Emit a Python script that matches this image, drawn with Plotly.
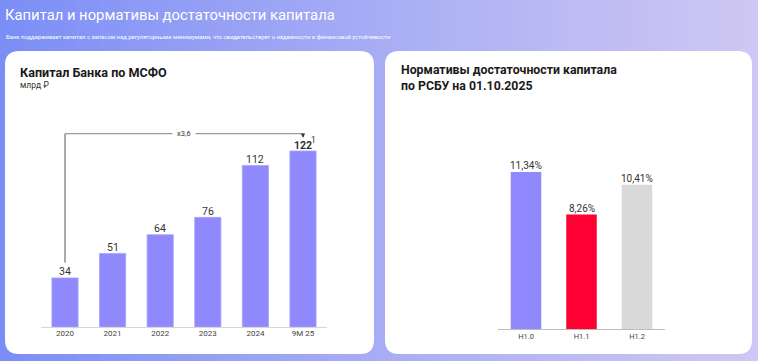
import plotly.graph_objects as go

W, H = 758, 361

# ---- data ----
cap_years = ["2020", "2021", "2022", "2023", "2024", "9M 25"]
cap_values = [34, 51, 64, 76, 112, 122]
cap_labels = ["34", "51", "64", "76", "112", "<b>122</b>"]
growth_label = "x3,6"
footnote_mark = "1"

ratio_names = ["Н1.0", "Н1.1", "Н1.2"]
ratio_values = [11.34, 8.26, 10.41]
ratio_labels = ["11,34%", "8,26%", "10,41%"]

main_title = "Капитал и нормативы достаточности капитала"
subtitle = ("Банк поддерживает капитал с запасом над регуляторными минимумами, "
            "что свидетельствует о надежности и финансовой устойчивости")
left_title = "Капитал Банка по МСФО"
left_unit = "млрд ₽"
right_title = "Нормативы достаточности капитала<br>по РСБУ на 01.10.2025"

# ---- styles ----
BAR = "#8f89fd"
ratio_colors = [BAR, "#ff0033", "#d9d9d9"]
FONT = "Roboto"


def px(x):
    return x / W


def py(y):
    return 1 - y / H


def hexmix(c1, c2, t):
    a = [int(c1[i:i + 2], 16) for i in (1, 3, 5)]
    b = [int(c2[i:i + 2], 16) for i in (1, 3, 5)]
    return "#%02x%02x%02x" % tuple(round(a[k] + (b[k] - a[k]) * t) for k in range(3))


def rrect(x0, y0, x1, y1, r):
    p = [
        f"M {px(x0 + r)} {py(y0)}",
        f"L {px(x1 - r)} {py(y0)}",
        f"Q {px(x1)} {py(y0)} {px(x1)} {py(y0 + r)}",
        f"L {px(x1)} {py(y1 - r)}",
        f"Q {px(x1)} {py(y1)} {px(x1 - r)} {py(y1)}",
        f"L {px(x0 + r)} {py(y1)}",
        f"Q {px(x0)} {py(y1)} {px(x0)} {py(y1 - r)}",
        f"L {px(x0)} {py(y0 + r)}",
        f"Q {px(x0)} {py(y0)} {px(x0 + r)} {py(y0)}",
        "Z",
    ]
    return " ".join(p)


shapes = []
# gradient background
N = 60
for i in range(N):
    t = i / (N - 1)
    shapes.append(dict(type="rect", xref="paper", yref="paper",
                       x0=i / N, x1=(i + 1) / N + 0.002, y0=0, y1=1,
                       fillcolor=hexmix("#7b8ef6", "#cec7f3", t ** 0.9),
                       line=dict(width=0), layer="below"))
# cards
shapes.append(dict(type="path", xref="paper", yref="paper", path=rrect(5, 51, 374, 354, 14),
                   fillcolor="white", line=dict(width=0), layer="below"))
shapes.append(dict(type="path", xref="paper", yref="paper", path=rrect(385, 51, 752, 354, 14),
                   fillcolor="white", line=dict(width=0), layer="below"))

# bracket (x in category index units)
first_i, last_i = 0, len(cap_years) - 1
br_low = cap_values[0] + 10.5
br_top = max(cap_values) + 12
shapes.append(dict(type="line", xref="x", yref="y", x0=first_i, x1=first_i,
                   y0=br_low, y1=br_top, line=dict(color="#666666", width=1.1)))
shapes.append(dict(type="line", xref="x", yref="y", x0=first_i, x1=last_i,
                   y0=br_top, y1=br_top, line=dict(color="#9a9a9a", width=1.3)))

fig = go.Figure()
fig.add_trace(go.Bar(x=cap_years, y=cap_values,
                     marker=dict(color=BAR, line=dict(width=0.8, color="#a7a2fd")),
                     width=0.55, xaxis="x", yaxis="y", hoverinfo="skip"))
fig.add_trace(go.Bar(x=ratio_names, y=ratio_values,
                     marker=dict(color=ratio_colors, line=dict(width=0)),
                     width=0.55, xaxis="x2", yaxis="y2", hoverinfo="skip"))

annotations = [
    dict(text=main_title, x=px(3), y=py(15), xref="paper", yref="paper", showarrow=False,
         xanchor="left", yanchor="middle", font=dict(family=FONT, size=14.8, color="white")),
    dict(text=subtitle, x=px(4), y=py(37), xref="paper", yref="paper", showarrow=False,
         xanchor="left", yanchor="middle", font=dict(family=FONT, size=5.9, color="white")),
    dict(text="<b>" + left_title + "</b>", x=px(18), y=py(72), xref="paper", yref="paper",
         showarrow=False, xanchor="left", yanchor="middle",
         font=dict(family=FONT, size=12.6, color="#1a1a1a")),
    dict(text=left_unit, x=px(18), y=py(85), xref="paper", yref="paper", showarrow=False,
         xanchor="left", yanchor="middle", font=dict(family=FONT, size=8.5, color="#333333")),
    dict(text="<b>" + right_title + "</b>", x=px(399), y=py(78), xref="paper", yref="paper",
         showarrow=False, xanchor="left", yanchor="middle", align="left",
         font=dict(family=FONT, size=12.3, color="#1a1a1a")),
    dict(text=growth_label, x=2.5, y=br_top, xref="x", yref="y", showarrow=False,
         bgcolor="white", borderpad=4, xanchor="center", yanchor="middle",
         font=dict(family=FONT, size=7.5, color="#333333")),
    dict(text="", x=last_i, y=br_top - 2.8, xref="x", yref="y", showarrow=True,
         ax=0, ay=-4, arrowhead=2, arrowsize=0.7, arrowwidth=1.2, arrowcolor="#333333",
         standoff=0),
    dict(text=footnote_mark, x=last_i, y=cap_values[-1], xref="x", yref="y",
         showarrow=False, xshift=10, yshift=11, xanchor="center", yanchor="middle",
         font=dict(family=FONT, size=8.5, color="#333333")),
]

# value labels just above bars
for i, (lab, v) in enumerate(zip(cap_labels, cap_values)):
    annotations.append(dict(text=lab, x=i, y=v, xref="x", yref="y", showarrow=False,
                            xanchor="center", yanchor="middle", yshift=6,
                            font=dict(family=FONT, size=10.5, color="#333333")))
for i, (lab, v) in enumerate(zip(ratio_labels, ratio_values)):
    annotations.append(dict(text=lab, x=i, y=v, xref="x2", yref="y2", showarrow=False,
                            xanchor="center", yanchor="middle", yshift=6,
                            font=dict(family=FONT, size=10, color="#333333")))

fig.update_layout(
    width=W, height=H, margin=dict(l=0, r=0, t=0, b=0),
    paper_bgcolor="#a0a8f6", plot_bgcolor="rgba(0,0,0,0)",
    showlegend=False, shapes=shapes, annotations=annotations,
    font=dict(family=FONT),
    xaxis=dict(domain=[px(41.2), px(326.8)], anchor="y", type="category", range=[-0.5, 5.5],
               showline=True, linecolor="#d6d6d6", linewidth=1, showgrid=False, zeroline=False,
               ticks="", tickfont=dict(family=FONT, size=8, color="#444444"),
               ticklabelstandoff=-2, fixedrange=True),
    yaxis=dict(domain=[34 / H, (34 + 140 * 1.4426) / H], range=[0, 140], visible=False,
               fixedrange=True),
    xaxis2=dict(domain=[px(498.25), px(664.75)], anchor="y2", type="category", range=[-0.5, 2.5],
                showline=True, linecolor="#bdbdbd", linewidth=1, showgrid=False, zeroline=False,
                ticks="", tickfont=dict(family=FONT, size=7.5, color="#444444"),
                ticklabelstandoff=0, fixedrange=True),
    yaxis2=dict(domain=[32 / H, (32 + 13 * 13.85) / H], range=[0, 13], visible=False,
                fixedrange=True),
)

fig.write_html("out.html", config={"displayModeBar": False},
               post_script="document.body.style.margin='0';")
